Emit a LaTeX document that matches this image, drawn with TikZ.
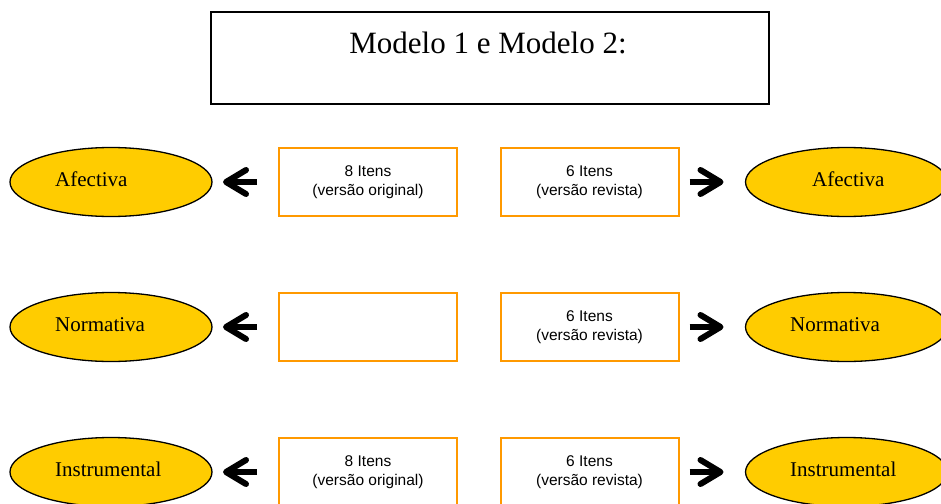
\documentclass[tikz,border=0pt]{standalone}
\usepackage{fontspec}
\setmainfont{Liberation Serif}
\setsansfont{Liberation Sans}
\usetikzlibrary{shapes.geometric}
\definecolor{gold}{HTML}{FFCC00}
\definecolor{orangeb}{HTML}{FF9900}
\tikzset{
  ell/.style={ellipse, draw=black, line width=1.3pt, fill=gold, minimum width=202pt, minimum height=69pt, inner sep=0pt},
  elltext/.style={anchor=base west, font=\fontsize{21}{24}\selectfont, inner sep=0pt},
  obox/.style={draw=orangeb, line width=2pt, minimum width=178pt, minimum height=68pt, align=center, font=\sffamily\fontsize{15.5}{19}\selectfont, inner sep=0pt},
  larr/.pic={\draw[line width=6.5pt] (17,0) -- (-8,0);
             \draw[line width=6pt, line cap=round, line join=round] (6,-12) -- (-14,0) -- (6,12);},
  rarr/.pic={\draw[line width=6.5pt] (-17,0) -- (8,0);
             \draw[line width=6pt, line cap=round, line join=round] (-6,-12) -- (14,0) -- (-6,12);}
}
\begin{document}
\begin{tikzpicture}[x=1pt,y=-1pt]
\useasboundingbox (0,0) rectangle (941,503);
\clip (0,0) rectangle (941,503);
% title
\node[draw=black, line width=1.5pt, minimum width=558pt, minimum height=92pt, inner sep=0pt] (title) at (490,58) {};
\node[anchor=base, font=\fontsize{31}{36}\selectfont, inner sep=0pt] (titletext) at (488,53) {Modelo 1 e Modelo 2:};
% rows
\foreach \r/\y in {1/182, 2/327, 3/472} {
  \node[ell] (le\r) at (111,\y) {};
  \node[ell] (re\r) at (846.5,\y) {};
  \coordinate (la\r) at (240,\y);
  \coordinate (ra\r) at (706.5,\y);
  \pic at (la\r) {larr};
  \pic at (ra\r) {rarr};
}
\node[elltext] (le1t) at (55,186) {Afectiva};
\node[elltext] (le2t) at (55,331) {Normativa};
\node[elltext] (le3t) at (55,476) {Instrumental};
\node[elltext] (re1t) at (812,186) {Afectiva};
\node[elltext] (re2t) at (790,331) {Normativa};
\node[elltext] (re3t) at (790,476) {Instrumental};
% boxes
\node[obox] (lb1) at (368,182) {8 Itens\\(versão original)};
\node[obox] (rb1) at (589.5,182) {6 Itens\\(versão revista)};
\node[obox] (lb2) at (368,327) {};
\node[obox] (rb2) at (589.5,327) {6 Itens\\(versão revista)};
\node[obox] (lb3) at (368,472) {8 Itens\\(versão original)};
\node[obox] (rb3) at (589.5,472) {6 Itens\\(versão revista)};
\end{tikzpicture}
\end{document}
